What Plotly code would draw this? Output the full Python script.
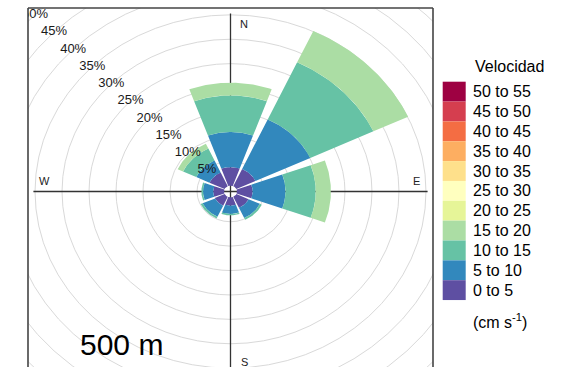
import numpy as np
import plotly.graph_objects as go

# ---------------- data ----------------
directions = [0, 45, 90, 135, 180, 225, 270, 315]          # sector centres (deg, compass)
speed_bins = ["0 to 5", "5 to 10", "10 to 15", "15 to 20", "20 to 25", "25 to 30",
              "30 to 35", "35 to 40", "40 to 45", "45 to 50", "50 to 55"]
bin_colors = ["#5E4FA2", "#3288BD", "#66C2A5", "#ABDDA4", "#E6F598", "#FFFFBF",
              "#FEE08B", "#FDAE61", "#F46D43", "#D53E4F", "#9E0142"]
# frequency (%) of each speed bin for each direction
f_0_5   = [3.8, 3.9, 2.9, 2.5, 1.7, 2.0, 2.0, 3.1]
f_5_10  = [7.2, 11.2, 6.1, 2.3, 1.7, 2.5, 1.9, 2.7]
f_10_15 = [7.5, 12.9, 5.6, 0.4, 0.3, 0.4, 0.3, 2.7]
f_15_20 = [2.6, 7.1, 2.8, 0.0, 0.0, 0.0, 0.0, 1.1]
f_20_25 = [0, 0, 0, 0, 0, 0, 0, 0]
f_25_30 = [0, 0, 0, 0, 0, 0, 0, 0]
f_30_35 = [0, 0, 0, 0, 0, 0, 0, 0]
f_35_40 = [0, 0, 0, 0, 0, 0, 0, 0]
f_40_45 = [0, 0, 0, 0, 0, 0, 0, 0]
f_45_50 = [0, 0, 0, 0, 0, 0, 0, 0]
f_50_55 = [0, 0, 0, 0, 0, 0, 0, 0]
freqs = [f_0_5, f_5_10, f_10_15, f_15_20, f_20_25, f_25_30,
         f_30_35, f_35_40, f_40_45, f_45_50, f_50_55]
ring_values = [5, 10, 15, 20, 25, 30, 35, 40, 45, 50]       # % grid rings
compass_labels = ["N", "E", "S", "W"]
panel_label = "500 m"
legend_title = "Velocidad"
legend_units = "(cm s<sup>-1</sup>)"

# ---------------- geometry / style ----------------
W, H = 569, 367
OFFSET = 1.2          # calm hole (in % units)
SECTOR_W = 40         # angular width of each wedge
FONT = "Liberation Sans, Arial, sans-serif"
px_l, px_r, px_t = 28, 433, 8
cx_px, cy_px = 230.5, 191.5
kx = (px_r - px_l) / 75.0
ky = 4.88
xr = [-(cx_px - px_l) / kx, (px_r - cx_px) / kx]
yr = [-(H - cy_px) / ky, (cy_px - px_t) / ky]

fig = go.Figure()

# wedges (stacked by speed bin)
cum = np.zeros(len(directions))
for b, (vals, col) in enumerate(zip(freqs, bin_colors)):
    vals = np.array(vals, dtype=float)
    xs, ys = [], []
    for i, th in enumerate(directions):
        if vals[i] <= 0:
            continue
        r0 = OFFSET + cum[i]
        r1 = OFFSET + cum[i] + vals[i]
        a = np.radians(np.linspace(th - SECTOR_W / 2, th + SECTOR_W / 2, 40))
        px = np.concatenate([r1 * np.sin(a), r0 * np.sin(a[::-1])])
        py = np.concatenate([r1 * np.cos(a), r0 * np.cos(a[::-1])])
        xs += list(px) + [px[0], None]
        ys += list(py) + [py[0], None]
    cum += vals
    if xs:
        fig.add_trace(go.Scatter(x=xs, y=ys, mode="lines", fill="toself",
                                 fillcolor=col, line=dict(width=0, color=col),
                                 hoverinfo="skip", showlegend=False))

# percent labels along the NW diagonal (clipped by the panel)
lab_d = np.array(ring_values) + OFFSET
fig.add_trace(go.Scatter(x=-lab_d / np.sqrt(2), y=lab_d / np.sqrt(2), mode="text",
                         text=[f"{v}%" for v in ring_values],
                         textfont=dict(family=FONT, size=13, color="#1a1a1a"),
                         cliponaxis=True, hoverinfo="skip", showlegend=False))

shapes = []
for v in ring_values:
    d = v + OFFSET
    shapes.append(dict(type="circle", xref="x", yref="y", x0=-d, x1=d, y0=-d, y1=d,
                       line=dict(color="#d9d9d9", width=1), layer="below"))
L = 36.5
shapes.append(dict(type="line", xref="x", yref="y", x0=-L, x1=L, y0=0, y1=0,
                   line=dict(color="#333", width=1.3), layer="below"))
shapes.append(dict(type="line", xref="x", yref="y", x0=0, x1=0, y0=-L, y1=L,
                   line=dict(color="#333", width=1.3), layer="below"))
# panel border (left, top, right)
pl, pr, pt = px_l / W, px_r / W, 1 - px_t / H
for x0, y0, x1, y1 in [(pl, -0.05, pl, pt), (pl, pt, pr, pt), (pr, pt, pr, -0.05)]:
    shapes.append(dict(type="line", xref="paper", yref="paper", x0=x0, y0=y0, x1=x1, y1=y1,
                       line=dict(color="#444", width=1.6)))

annotations = []
# compass labels
for lab, (x, y) in zip(compass_labels, [(2.5, 34.3), (34.4, 2.15), (2.5, -34.9), (-34.5, 2.15)]):
    annotations.append(dict(x=x, y=y, xref="x", yref="y", text=lab, showarrow=False,
                            xanchor="center", yanchor="middle",
                            font=dict(family=FONT, size=11, color="#222")))
annotations.append(dict(x=121.7 / W, y=1 - 344 / H, xref="paper", yref="paper",
                        text=panel_label, showarrow=False, xanchor="center", yanchor="middle",
                        font=dict(family=FONT, size=30, color="black")))

# colour key
box_top, box_h = 81.7, 19.85
for j, (lab, col) in enumerate(zip(speed_bins[::-1], bin_colors[::-1])):
    t = box_top + j * box_h
    shapes.append(dict(type="rect", xref="paper", yref="paper",
                       x0=442.7 / W, x1=465.7 / W, y0=1 - (t + box_h) / H, y1=1 - t / H,
                       fillcolor=col, line=dict(width=0)))
    annotations.append(dict(x=471 / W, y=1 - (t + box_h / 2) / H, xref="paper", yref="paper",
                            xanchor="left", yanchor="middle", text=lab, showarrow=False,
                            font=dict(family=FONT, size=16, color="black")))
annotations.append(dict(x=473 / W, y=1 - 66.7 / H, xref="paper", yref="paper", xanchor="left",
                        yanchor="middle", text=legend_title, showarrow=False,
                        font=dict(family=FONT, size=16, color="black")))
annotations.append(dict(x=471 / W, y=1 - 320.5 / H, xref="paper", yref="paper", xanchor="left",
                        yanchor="middle", text=legend_units, showarrow=False,
                        font=dict(family=FONT, size=16, color="black")))

fig.update_layout(
    width=W, height=H, margin=dict(l=0, r=0, t=0, b=0),
    paper_bgcolor="white", plot_bgcolor="white",
    xaxis=dict(domain=[pl, pr], range=xr, visible=False, fixedrange=True),
    yaxis=dict(domain=[0, pt], range=yr, visible=False, fixedrange=True),
    shapes=shapes, annotations=annotations, showlegend=False,
)
fig.write_html("out.html", config={"displayModeBar": False},
               post_script="document.body.style.margin='0';document.body.style.overflow='hidden';")
